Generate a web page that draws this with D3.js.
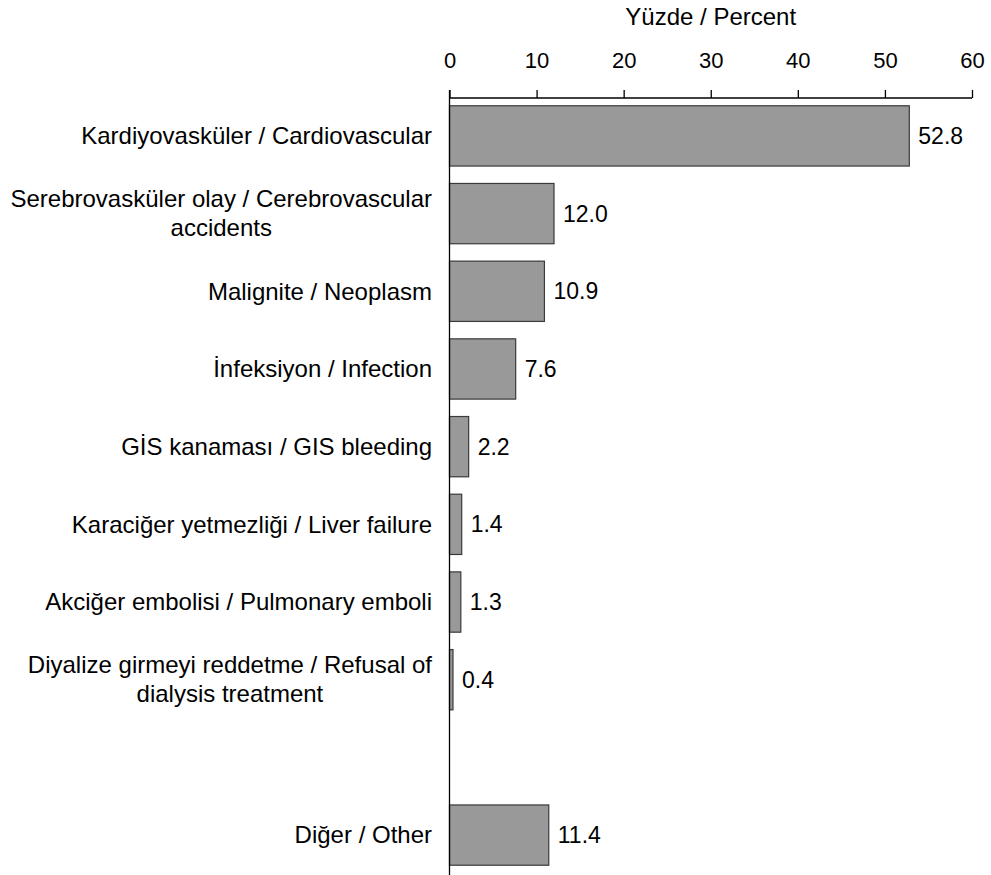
<!DOCTYPE html>
<html>
<head>
<meta charset="utf-8">
<script src="https://cdn.jsdelivr.net/npm/d3@7"></script>
<style>
  body { margin: 0; background: #fff; }
  text { font-family: "Liberation Sans", Arial, sans-serif; fill: #000; }
</style>
</head>
<body>
<div id="chart"></div>
<script>
//chart data
var categories = [
  ["Kardiyovasküler / Cardiovascular"],
  ["Serebrovasküler olay / Cerebrovascular", "accidents"],
  ["Malignite / Neoplasm"],
  ["İnfeksiyon / Infection"],
  ["GİS kanaması / GIS bleeding"],
  ["Karaciğer yetmezliği / Liver failure"],
  ["Akciğer embolisi / Pulmonary emboli"],
  ["Diyalize girmeyi reddetme / Refusal of", "dialysis treatment"],
  [""],
  ["Diğer / Other"]
];
var values = [52.8, 12.0, 10.9, 7.6, 2.2, 1.4, 1.3, 0.4, null, 11.4];
var xTicks = [0, 10, 20, 30, 40, 50, 60];
var axisTitle = "Yüzde / Percent";

//svg size
var svgWidth = 991;
var svgHeight = 875;

var margin = {top: 98, left: 449.5, right: 19, bottom: 2};
var labelX = 432;

var svg = d3.select("#chart")
  .append("svg")
  .attr("width", svgWidth)
  .attr("height", svgHeight);

var xScale = d3.scaleLinear()
  .domain([0, 60])
  .range([margin.left, svgWidth - margin.right]);

var yScale = d3.scaleBand()
  .domain(d3.range(values.length))
  .range([margin.top, svgHeight - margin.bottom])
  .paddingInner(0.224)
  .paddingOuter(0.1);

var rows = values.map((v, i) => ({v: v, label: categories[i], i: i}));
var barRows = rows.filter(d => d.v !== null);

//bars
svg.append("g")
  .selectAll("rect")
  .data(barRows)
  .enter()
  .append("rect")
  .attr("x", xScale(0))
  .attr("y", d => yScale(d.i))
  .attr("width", d => xScale(d.v) - xScale(0))
  .attr("height", yScale.bandwidth())
  .attr("fill", "#999999")
  .attr("stroke", "#3a3a3a")
  .attr("stroke-width", 1.2);

//value labels
svg.append("g")
  .selectAll("text")
  .data(barRows)
  .enter()
  .append("text")
  .attr("x", d => xScale(d.v) + 9)
  .attr("y", d => yScale(d.i) + yScale.bandwidth() / 2)
  .attr("dy", "0.35em")
  .style("font-size", "23px")
  .text(d => d.v.toFixed(1));

//category labels (wrapped lines are centred under the first line)
var labelGroup = svg.append("g");
rows.forEach(function(d) {
  var cy = yScale(d.i) + yScale.bandwidth() / 2;
  if (d.label.length === 1) {
    labelGroup.append("text")
      .attr("text-anchor", "end")
      .attr("x", labelX)
      .attr("y", cy)
      .attr("dy", "0.35em")
      .style("font-size", "24px")
      .text(d.label[0]);
  } else {
    var first = labelGroup.append("text")
      .attr("text-anchor", "end")
      .attr("x", labelX)
      .attr("y", cy - 7)
      .style("font-size", "24px")
      .text(d.label[0]);
    var w = first.node().getComputedTextLength();
    labelGroup.append("text")
      .attr("text-anchor", "middle")
      .attr("x", labelX - w / 2)
      .attr("y", cy + 22)
      .style("font-size", "24px")
      .text(d.label[1]);
  }
});

//top axis
var topAxis = d3.axisTop(xScale)
  .tickValues(xTicks)
  .tickSize(8)
  .tickPadding(22);

var xAxis = svg.append("g")
  .attr("transform", `translate(0, ${margin.top})`)
  .call(topAxis);

xAxis.select(".domain")
  .attr("d", `M${xScale(0)},0H${xScale(60)}`)
  .attr("stroke", "#000")
  .attr("stroke-width", 1.3);
xAxis.selectAll(".tick line").attr("stroke", "#000").attr("stroke-width", 1.3);
xAxis.selectAll(".tick text")
  .style("font-size", "22px")
  .style("font-family", "'Liberation Sans', Arial, sans-serif")
  .attr("fill", "#000");

//vertical axis line
svg.append("line")
  .attr("x1", xScale(0))
  .attr("x2", xScale(0))
  .attr("y1", margin.top - 8)
  .attr("y2", svgHeight)
  .attr("stroke", "#000")
  .attr("stroke-width", 1.3);

//axis title
svg.append("text")
  .attr("x", (xScale(0) + xScale(60)) / 2)
  .attr("y", 25)
  .attr("text-anchor", "middle")
  .style("font-size", "24px")
  .text(axisTitle);
</script>
</body>
</html>
